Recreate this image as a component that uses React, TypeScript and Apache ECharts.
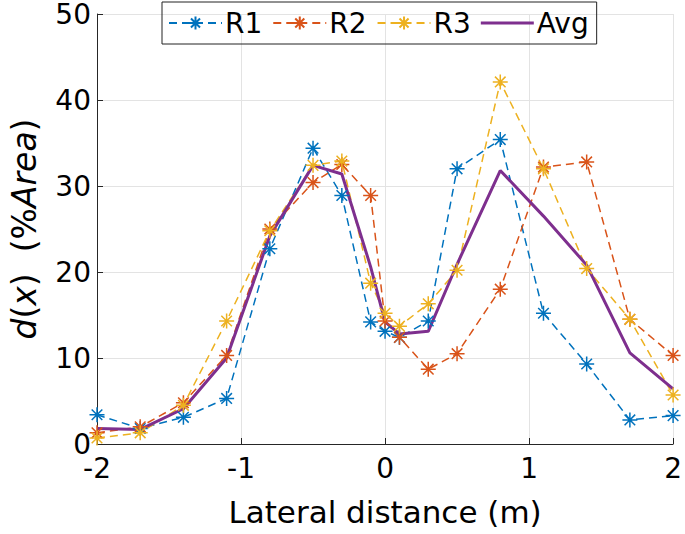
import React, { useEffect, useRef } from "react";
import * as echarts from "echarts";

const xs = [-2, -1.7, -1.4, -1.1, -0.8, -0.5, -0.3, -0.1, 0, 0.1, 0.3, 0.5, 0.8, 1.1, 1.4, 1.7, 2];
const r1 = [3.4, 1.8, 3.1, 5.3, 22.7, 34.4, 28.9, 14.2, 13.1, 12.4, 14.3, 32.0, 35.4, 15.2, 9.3, 2.8, 3.3];
const r2 = [1.3, 2.0, 4.8, 10.3, 25.0, 30.4, 32.5, 28.9, 14.3, 12.4, 8.7, 10.5, 18.0, 32.2, 32.8, 14.5, 10.3];
const r3 = [0.7, 1.3, 4.5, 14.3, 24.8, 32.4, 32.9, 18.7, 15.2, 13.7, 16.3, 20.2, 42.1, 32.0, 20.4, 14.5, 5.7];
const avg = [1.8, 1.7, 4.1, 10.0, 24.2, 32.4, 31.4, 20.6, 14.2, 12.8, 13.1, 20.9, 31.8, 26.5, 20.8, 10.6, 6.4];
const seriesNames = ["R1", "R2", "R3", "Avg"];
const colors = ["#0072BD", "#D95319", "#EDB120", "#7E2F8E"];

const FONT = "DejaVu Sans";
const STAR = "path://M7.5,0L7.5,15M0,7.5L15,7.5M2.2,2.2L12.8,12.8M2.2,12.8L12.8,2.2";

const pairs = (ys: number[]) => xs.map((x, i) => [x, ys[i]]);

export default function App() {
  const ref = useRef<HTMLDivElement>(null);
  useEffect(() => {
    if (!ref.current) return;
    const chart = echarts.init(ref.current, undefined, { renderer: "svg" });
    const dashed = (i: number, ys: number[]) => ({
      name: seriesNames[i],
      type: "line",
      data: pairs(ys),
      symbol: STAR,
      symbolSize: 15,
      showSymbol: true,
      lineStyle: { color: colors[i], width: 1.5, type: [8, 5] },
      itemStyle: { color: "none", borderColor: colors[i], borderWidth: 1.5 },
      emphasis: { disabled: true },
    });
    chart.setOption({
      animation: false,
      textStyle: { fontFamily: FONT },
      grid: { left: 88, right: 9, top: 11, bottom: 90, containLabel: false },
      legend: {
        top: 2,
        left: 162,
        data: [
          { name: "R1" },
          { name: "R2" },
          { name: "R3" },
          { name: "Avg", icon: "path://M0,0H50V3H0Z" },
        ],
        borderColor: "#222",
        borderWidth: 1,
        padding: [7, 8, 7, 6],
        itemGap: 10,
        itemWidth: 53,
        itemHeight: 16,
        textStyle: { fontFamily: FONT, fontSize: 28, color: "#000", padding: [0, 0, 0, -2] },
      },
      xAxis: {
        type: "value",
        min: -2,
        max: 2,
        interval: 1,
        name: "Lateral distance (m)",
        nameLocation: "middle",
        nameGap: 52,
        nameTextStyle: { fontFamily: FONT, fontSize: 31, color: "#000" },
        axisLine: { show: true, onZero: false, lineStyle: { color: "#262626", width: 1 } },
        axisTick: { show: true, inside: true, length: 6, lineStyle: { color: "#262626" } },
        axisLabel: { fontFamily: FONT, fontSize: 28, color: "#000", margin: 10 },
        splitLine: { show: true, lineStyle: { color: "#e3e3e3", width: 1 } },
      },
      yAxis: {
        type: "value",
        min: 0,
        max: 50,
        interval: 10,
        name: "{i|d}{n|(}{i|x}{n|)  (%}{i|Area}{n|)}",
        nameLocation: "middle",
        nameGap: 56,
        nameRotate: 90,
        nameTextStyle: {
          rich: {
            i: { fontFamily: FONT, fontSize: 33, fontStyle: "italic", color: "#000" },
            n: { fontFamily: FONT, fontSize: 33, color: "#000" },
          },
        },
        axisLine: { show: true, onZero: false, lineStyle: { color: "#262626", width: 1 } },
        axisTick: { show: true, inside: true, length: 6, lineStyle: { color: "#262626" } },
        axisLabel: { fontFamily: FONT, fontSize: 28, color: "#000", margin: 6 },
        splitLine: { show: true, lineStyle: { color: "#e3e3e3", width: 1 } },
      },
      series: [
        dashed(0, r1),
        dashed(1, r2),
        dashed(2, r3),
        {
          name: seriesNames[3],
          type: "line",
          data: pairs(avg),
          symbol: "none",
          lineStyle: { color: colors[3], width: 3 },
          itemStyle: { color: colors[3] },
          emphasis: { disabled: true },
        },
      ],
    });
    return () => chart.dispose();
  }, []);
  return <div ref={ref} style={{ width: 685, height: 534, position: "absolute", left: 0, top: 0, background: "#fff" }} />;
}
